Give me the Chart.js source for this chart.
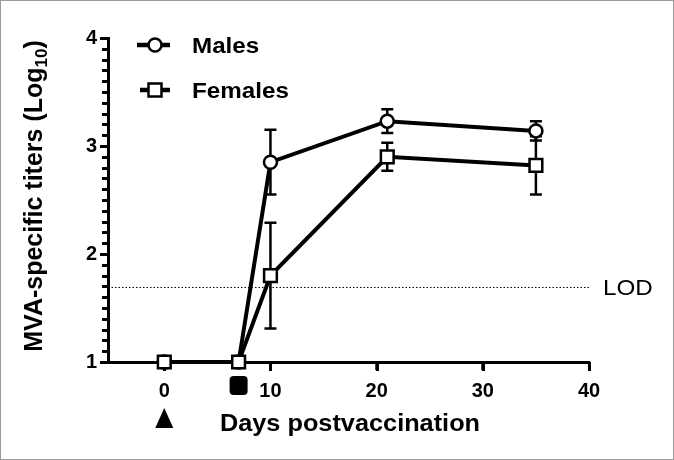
<!DOCTYPE html>
<html>
<head>
<meta charset="utf-8">
<script src="https://cdn.jsdelivr.net/npm/chart.js@4/dist/chart.umd.min.js"></script>
<style>
  html, body { margin: 0; padding: 0; background: #fff; }
</style>
</head>
<body>
<canvas id="titerChart" width="674" height="460"></canvas>
<script>
// Days after vaccination and mean titers (Log10) with error bars
const days = [0, 7, 10, 21, 35];
const males = [1, 1, 2.85, 3.23, 3.14];
const malesErr = [0, 0, 0.30, 0.11, 0.09];
const females = [1, 1, 1.80, 2.90, 2.82];
const femalesErr = [0, 0, 0.49, 0.13, 0.27];

const xTicks = [0, 10, 20, 30, 40];
const yTicks = [1, 2, 3, 4];
const yMinorStep = 0.1;
const lod = 1.69;            // limit of detection
const primeDay = 0;          // triangle marker
const boostDay = 7;          // filled square marker

const FONT = '"Liberation Sans", Arial, sans-serif';

// text with a slight horizontal stretch, like the original figure
function stretchText(ctx, str, x, y, font, align, sx) {
    ctx.save();
    ctx.font = font;
    ctx.textAlign = 'left';
    ctx.textBaseline = 'alphabetic';
    const w = ctx.measureText(str).width * sx;
    const left = align === 'center' ? x - w / 2 : x;
    ctx.translate(left, y);
    ctx.scale(sx, 1);
    ctx.fillStyle = '#000';
    ctx.fillText(str, 0, 0);
    ctx.restore();
}

function drawMarker(ctx, style, x, y) {
    ctx.save();
    ctx.fillStyle = '#fff';
    ctx.strokeStyle = '#000';
    ctx.lineWidth = 2.5;
    ctx.beginPath();
    if (style === 'circle') {
        ctx.arc(x, y, 6.5, 0, Math.PI * 2);
    } else {
        ctx.rect(x - 6.5, y - 6.5, 13, 13);
    }
    ctx.fill();
    ctx.stroke();
    ctx.restore();
}

const extras = {
    id: 'extras',
    beforeDatasetsDraw(chart) {
        const { ctx, chartArea, scales: { x, y } } = chart;

        // tick marks: major and minor on y, major on x
        ctx.save();
        ctx.fillStyle = '#000';
        const left = Math.round(chartArea.left);
        const bottom = Math.round(chartArea.bottom);
        for (let v = y.min; v <= y.max + 1e-6; v += yMinorStep) {
            const py = Math.round(y.getPixelForValue(v));
            const major = Math.abs(v - Math.round(v)) < 1e-6;
            const len = major ? 8 : 6;
            ctx.fillRect(left - len, py - 1, len, 3);
        }
        xTicks.forEach(v => {
            const px = Math.round(x.getPixelForValue(v));
            ctx.fillRect(px - 1, bottom, 3, 9);
        });
        ctx.restore();

        // LOD dotted line
        const ly = y.getPixelForValue(lod);
        ctx.save();
        ctx.strokeStyle = '#000';
        ctx.lineWidth = 1;
        ctx.setLineDash([1.5, 2]);
        ctx.beginPath();
        ctx.moveTo(chartArea.left, ly);
        ctx.lineTo(chartArea.right, ly);
        ctx.stroke();
        ctx.restore();

        // error bars
        const series = [[males, malesErr], [females, femalesErr]];
        ctx.save();
        ctx.strokeStyle = '#000';
        ctx.lineWidth = 2.5;
        series.forEach(([vals, errs]) => {
            days.forEach((d, i) => {
                if (!errs[i]) return;
                const px = x.getPixelForValue(d);
                const top = y.getPixelForValue(vals[i] + errs[i]);
                const bot = y.getPixelForValue(vals[i] - errs[i]);
                ctx.beginPath();
                ctx.moveTo(px, top); ctx.lineTo(px, bot);
                ctx.moveTo(px - 6, top); ctx.lineTo(px + 6, top);
                ctx.moveTo(px - 6, bot); ctx.lineTo(px + 6, bot);
                ctx.stroke();
            });
        });
        ctx.restore();
    },
    afterDraw(chart) {
        const { ctx, chartArea, scales: { x, y } } = chart;

        // LOD label
        stretchText(ctx, 'LOD', chartArea.right + 14, y.getPixelForValue(lod) + 8,
            '22px ' + FONT, 'left', 1.1);

        // x axis title
        stretchText(ctx, 'Days postvaccination', 350, 431, 'bold 23px ' + FONT, 'center', 1.1);

        // y axis title with subscript
        ctx.save();
        ctx.translate(42, 196);
        ctx.rotate(-Math.PI / 2);
        ctx.fillStyle = '#000';
        ctx.textBaseline = 'alphabetic';
        ctx.textAlign = 'left';
        const main = 'MVA-specific titers (Log', sub = '10', close = ')';
        ctx.font = 'bold 25px ' + FONT;
        const w1 = ctx.measureText(main).width, w3 = ctx.measureText(close).width;
        ctx.font = 'bold 17px ' + FONT;
        const w2 = ctx.measureText(sub).width;
        let cx = -(w1 + w2 + w3) / 2;
        ctx.font = 'bold 25px ' + FONT;
        ctx.fillText(main, cx, 0);
        cx += w1;
        ctx.font = 'bold 17px ' + FONT;
        ctx.fillText(sub, cx, 5);
        cx += w2;
        ctx.font = 'bold 25px ' + FONT;
        ctx.fillText(close, cx, 0);
        ctx.restore();

        // legend
        const legend = [['Males', 'circle', 45, 137], ['Females', 'rect', 90, 140]];
        legend.forEach(([label, style, ly, lx]) => {
            ctx.save();
            ctx.strokeStyle = '#000';
            ctx.lineWidth = 4.5;
            ctx.beginPath();
            ctx.moveTo(lx, ly); ctx.lineTo(170, ly);
            ctx.stroke();
            ctx.restore();
            drawMarker(ctx, style, 155, ly);
            stretchText(ctx, label, 192, ly + 8, 'bold 22px ' + FONT, 'left', 1.1);
        });

        // dose markers under the x axis
        ctx.save();
        ctx.fillStyle = '#000';
        const bx = x.getPixelForValue(boostDay);
        ctx.beginPath();
        ctx.roundRect(bx - 9, 376, 18, 19, 4);
        ctx.fill();
        const tx = x.getPixelForValue(primeDay);
        ctx.beginPath();
        ctx.moveTo(tx, 408);
        ctx.lineTo(tx + 9, 428);
        ctx.lineTo(tx - 9, 428);
        ctx.closePath();
        ctx.fill();
        ctx.restore();

        // light frame round the picture
        ctx.save();
        ctx.strokeStyle = '#9a9a9a';
        ctx.lineWidth = 1;
        ctx.strokeRect(0.5, 0.5, chart.width - 1, chart.height - 1);
        ctx.restore();
    }
};

const ctx = document.getElementById('titerChart').getContext('2d');

new Chart(ctx, {
    type: 'line',
    data: {
        datasets: [
            {
                label: 'Males',
                data: days.map((d, i) => ({ x: d, y: males[i] })),
                borderColor: '#000',
                borderWidth: 4,
                pointStyle: 'circle',
                pointRadius: 6.5,
                pointBorderWidth: 2.5,
                pointBackgroundColor: '#fff',
                pointBorderColor: '#000',
                tension: 0,
                clip: false,
                order: 1
            },
            {
                label: 'Females',
                data: days.map((d, i) => ({ x: d, y: females[i] })),
                borderColor: '#000',
                borderWidth: 4,
                pointStyle: 'rect',
                pointRadius: 9,
                pointBorderWidth: 2.5,
                pointBackgroundColor: '#fff',
                pointBorderColor: '#000',
                tension: 0,
                clip: false,
                order: 0
            }
        ]
    },
    options: {
        responsive: false,
        animation: false,
        layout: { padding: { left: 0, right: 85, top: 38, bottom: 0 } },
        plugins: {
            legend: { display: false },
            tooltip: { enabled: false }
        },
        scales: {
            x: {
                type: 'linear',
                min: -5.3,
                max: 40,
                afterBuildTicks: s => { s.ticks = xTicks.map(v => ({ value: v })); },
                afterFit: s => { s.height = 98; },
                grid: { drawOnChartArea: false, tickLength: 8, tickWidth: 2.5, color: '#000', tickColor: '#000' },
                border: { color: '#000', width: 3 },
                ticks: {
                    color: '#000',
                    autoSkip: false,
                    maxRotation: 0,
                    padding: 9,
                    font: { family: FONT, size: 20, weight: 'bold' }
                }
            },
            y: {
                min: 1,
                max: 4,
                afterBuildTicks: s => { s.ticks = yTicks.map(v => ({ value: v })); },
                afterFit: s => { s.width = 108; },
                grid: { drawOnChartArea: false, tickLength: 8, tickWidth: 2.5, color: '#000', tickColor: '#000' },
                border: { color: '#000', width: 3 },
                ticks: {
                    color: '#000',
                    autoSkip: false,
                    padding: 3,
                    font: { family: FONT, size: 20, weight: 'bold' }
                }
            }
        }
    },
    plugins: [extras]
});
</script>
</body>
</html>
